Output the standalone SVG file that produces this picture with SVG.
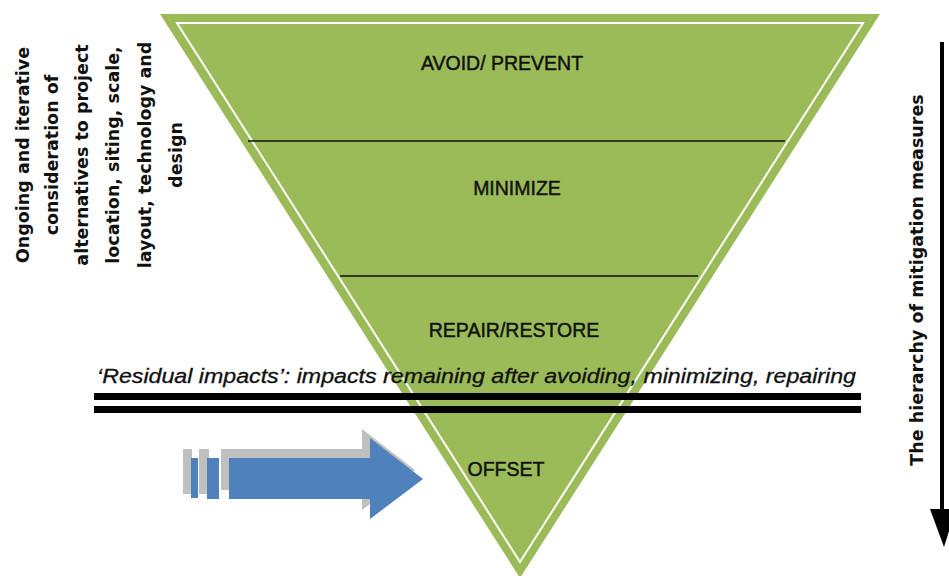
<svg xmlns="http://www.w3.org/2000/svg" width="949" height="576" viewBox="0 0 949 576">
<style>
.lvl{font-family:"Liberation Sans",Arial,sans-serif;font-size:19.5px;fill:#111;text-anchor:middle;stroke:#111;stroke-width:0.45}
.side{font-family:"DejaVu Sans","Liberation Sans",sans-serif;font-weight:bold;font-size:17.5px;fill:#111;text-anchor:middle}
.sep{stroke:#111;stroke-width:1.6}
</style>
<rect width="949" height="576" fill="#fff"/>
<g id="pyramid">
<polygon points="160,14 880,14 520,578" fill="#9BBB59"/>
<polygon points="177,23 863,23 520,562" fill="none" stroke="#fff" stroke-width="2"/>
<line class="sep" x1="248" y1="141" x2="785" y2="141"/>
<line class="sep" x1="340" y1="276" x2="698" y2="276"/>
</g>
<g id="avoid"><text class="lvl" x="502" y="70">AVOID/ PREVENT</text></g>
<g id="minimize"><text class="lvl" x="517" y="195">MINIMIZE</text></g>
<g id="repair"><text class="lvl" x="514" y="337">REPAIR/RESTORE</text></g>
<g id="offset"><text class="lvl" x="506" y="476">OFFSET</text></g>
<g id="alternatives">
<text class="side" transform="translate(29,155) rotate(-90)">Ongoing and iterative</text>
<text class="side" transform="translate(58,155) rotate(-90)">consideration of</text>
<text class="side" transform="translate(88,155) rotate(-90)">alternatives to project</text>
<text class="side" transform="translate(119,155) rotate(-90)">location, siting, scale,</text>
<text class="side" transform="translate(151,155) rotate(-90)">layout, technology and</text>
<text class="side" transform="translate(182,155) rotate(-90)">design</text>
</g>
<g id="residual">
<text x="97" y="383" font-family="'Liberation Sans',Arial,sans-serif" font-style="italic" font-size="19.5" fill="#111" stroke="#111" stroke-width="0.3" textLength="759" lengthAdjust="spacingAndGlyphs">‘Residual impacts’: impacts remaining after avoiding, minimizing, repairing</text>
<rect x="94" y="393" width="767" height="7" fill="#000"/>
<rect x="94" y="406" width="767" height="7" fill="#000"/>
</g>
<g id="hierarchy"><text class="side" transform="translate(923,280) rotate(-90)">The hierarchy of mitigation measures</text></g>
<g id="connectors">
<g id="blue-arrow">
<rect x="183" y="449" width="9" height="45" fill="#C0C0C0"/>
<rect x="199" y="449" width="10" height="45" fill="#C0C0C0"/>
<polygon points="221,449 362,449 362,429 415,470 362,510 362,490 221,490" fill="#C0C0C0"/>
<rect x="191" y="458" width="7" height="40" fill="#4F81BD"/>
<rect x="207" y="458" width="12" height="41" fill="#4F81BD"/>
<polygon points="229,458 370,458 370,438 423,479 370,519 370,499 229,499" fill="#4F81BD"/>
</g>
<g id="down-arrow">
<line x1="942" y1="42" x2="942" y2="512" stroke="#000" stroke-width="4"/>
<polygon points="930,509 956,509 944,547" fill="#000"/>
</g>
</g>
</svg>
